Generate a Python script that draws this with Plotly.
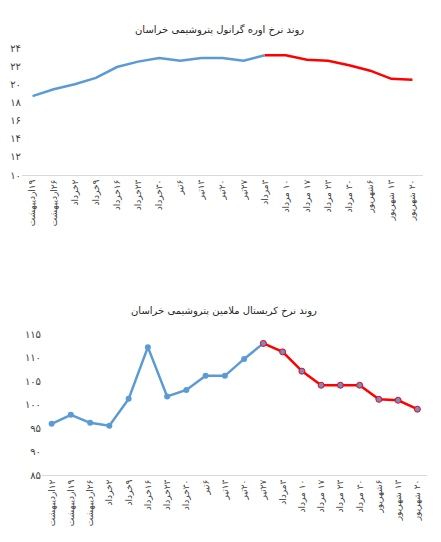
import plotly.graph_objects as go

# --- data ---
urea_dates = ["۱۹اردیبهشت", "۲۶اردیبهشت", "۲خرداد", "۹خرداد", "۱۶خرداد", "۲۳خرداد",
              "۳۰خرداد", "۶تیر", "۱۳تیر", "۲۰تیر", "۲۷تیر", "۳مرداد", "۱۰ مرداد",
              "۱۷ مرداد", "۲۳ مرداد", "۳۰ مرداد", "۶شهریور", "۱۳ شهریور", "۲۰ شهریور"]
urea_price = [18.7, 19.45, 20.0, 20.7, 21.9, 22.5, 22.9, 22.6, 22.9, 22.9,
              22.6, 23.2, 23.2, 22.7, 22.6, 22.1, 21.5, 20.6, 20.5]
urea_split = 11  # red from this point on

mel_dates = ["۱۲اردیبهشت"] + urea_dates
mel_price = [95.9, 97.8, 96.1, 95.5, 101.2, 112.2, 101.7, 103.1, 106.1, 106.1,
             109.7, 113.0, 111.2, 107.1, 104.1, 104.1, 104.1, 101.1, 100.9, 99.0]
mel_split = 11

urea_ticks = [10, 12, 14, 16, 18, 20, 22, 24]
mel_ticks = [85, 90, 95, 100, 105, 110, 115]

BLUE = "#5B9BD5"
RED = "#FF0000"
FONT = "DejaVu Sans, Noto Sans, sans-serif"


def fa_num(n):
    return str(n).translate(str.maketrans("0123456789", "۰۱۲۳۴۵۶۷۸۹"))


def rtl(s):
    # force right-to-left display so the day number sits on the right
    return "\u202b" + s + "\u202c"


def split(vals, k):
    first = [v if i <= k else None for i, v in enumerate(vals)]
    second = [v if i >= k else None for i, v in enumerate(vals)]
    return first, second


# page body has an 8px margin, so the figure is 16px smaller and offset by 8
OFF = 8
W, H = 441 - 2 * OFF, 542 - 2 * OFF


def px_x(p):
    return (p - OFF) / W


def px_y(p):
    return 1 - (p - OFF) / H


fig = go.Figure()

u_blue, u_red = split(urea_price, urea_split)
fig.add_trace(go.Scatter(x=urea_dates, y=u_blue, mode="lines",
                         line=dict(color=BLUE, width=2.5), xaxis="x", yaxis="y"))
fig.add_trace(go.Scatter(x=urea_dates, y=u_red, mode="lines",
                         line=dict(color=RED, width=2.5), xaxis="x", yaxis="y"))

m_blue, m_red = split(mel_price, mel_split)
fig.add_trace(go.Scatter(x=mel_dates, y=m_blue, mode="lines+markers",
                         line=dict(color=BLUE, width=2.5),
                         marker=dict(color=BLUE, size=6), xaxis="x2", yaxis="y2"))
fig.add_trace(go.Scatter(x=mel_dates, y=m_red, mode="lines+markers",
                         line=dict(color=RED, width=2.5),
                         marker=dict(color="#6F8CCB", size=6, line=dict(color=RED, width=1)),
                         xaxis="x2", yaxis="y2"))


def xax(domain, anchor, cats):
    return dict(domain=domain, anchor=anchor, type="category", range=[-0.5, len(cats) - 0.5],
                tickvals=cats, ticktext=[rtl(c) for c in cats],
                showgrid=False, showline=True, linecolor="#D9D9D9", linewidth=1,
                tickangle=-90, ticks="", tickfont=dict(size=9, color="#404040"),
                zeroline=False, fixedrange=True, automargin=False)


def yax(domain, anchor, ticks):
    return dict(domain=domain, anchor=anchor, range=[ticks[0], ticks[-1]],
                tickvals=ticks, ticktext=[fa_num(t) for t in ticks],
                showgrid=False, showline=False, zeroline=False, ticks="",
                tickfont=dict(size=10, color="#404040"), fixedrange=True,
                automargin=False)


fig.update_layout(
    width=W, height=H,
    margin=dict(l=0, r=0, t=0, b=0),
    paper_bgcolor="white", plot_bgcolor="white",
    showlegend=False,
    font=dict(family=FONT, color="#404040"),
    xaxis=xax([px_x(22), px_x(423)], "y", urea_dates),
    yaxis=yax([px_y(175), px_y(48)], "x", urea_ticks),
    xaxis2=xax([px_x(42), px_x(427)], "y2", mel_dates),
    yaxis2=yax([px_y(475), px_y(334)], "x2", mel_ticks),
    annotations=[
        dict(text="روند نرخ اوره گرانول پتروشیمی خراسان", x=px_x(219), y=px_y(22),
             xref="paper", yref="paper", showarrow=False,
             font=dict(size=10, color="#262626")),
        dict(text="روند نرخ کریستال ملامین پتروشیمی خراسان", x=px_x(224), y=px_y(311),
             xref="paper", yref="paper", showarrow=False,
             font=dict(size=10, color="#262626")),
    ],
)

fig.write_html("out.html")
